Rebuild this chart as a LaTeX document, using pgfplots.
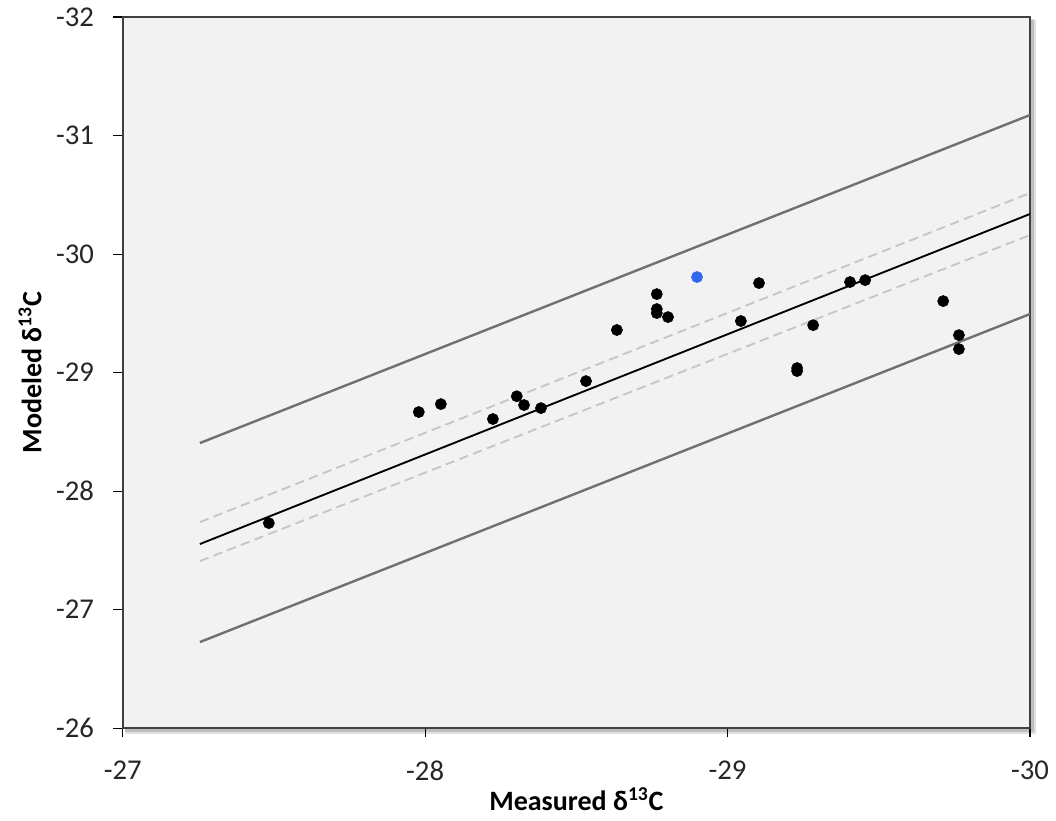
\documentclass[border=0pt]{standalone}
\usepackage{fontspec}
\setmainfont{Carlito}
\usepackage{pgfplots}
\pgfplotsset{compat=1.18}
\usetikzlibrary{calc,backgrounds}

\definecolor{bgc}{HTML}{F2F2F2}
\definecolor{frame}{HTML}{404040}
\definecolor{pband}{HTML}{707070}
\definecolor{cband}{HTML}{C6C6C6}
\definecolor{bluept}{HTML}{3366EE}

\begin{document}
\begin{tikzpicture}
\begin{axis}[
  scale only axis,
  width=680pt, height=533pt,
  xmin=-30, xmax=-27, ymin=-32, ymax=-26,
  x dir=reverse, y dir=reverse,
  xtick={-27,-28,-29,-30}, xticklabels={-27,-28,-29,-30},
  ytick={-32,-31,-30,-29,-28,-27,-26}, yticklabels={-32,-31,-30,-29,-28,-27,-26},
  tick align=outside, xtick pos=left, ytick pos=left,
  major tick length=7pt,
  tick style={black, line width=0.8pt},
  ticklabel style={font=\fontsize{21.5}{24}\selectfont, text=black!85},
  xticklabel style={yshift=-14pt},
  yticklabel style={xshift=-11pt},
  axis line style={frame, line width=1.4pt},
  axis background/.style={fill=bgc},
  xlabel={\textbf{Measured δ\textsuperscript{13}C}},
  ylabel={\textbf{Modeled δ\textsuperscript{13}C}},
  label style={font=\fontsize{21}{24}\selectfont},
  xlabel style={yshift=2pt},
  ylabel style={yshift=4pt},
  clip=true,
]
% prediction band
\addplot[pband, line width=1.8pt] coordinates {(-27.255,-28.405) (-30,-31.173)};
\addplot[pband, line width=1.8pt] coordinates {(-27.255,-26.726) (-30,-29.494)};
% confidence band
\addplot[cband, line width=1.4pt, dash pattern=on 7pt off 4pt] coordinates {(-27.255,-27.738) (-30,-30.515)};
\addplot[cband, line width=1.4pt, dash pattern=on 7pt off 4pt] coordinates {(-27.255,-27.409) (-30,-30.160)};
% fit
\addplot[black, line width=1.4pt] coordinates {(-27.255,-27.553) (-30,-30.338)};
% observations
\addplot[only marks, mark=*, mark size=4.2pt, black] coordinates {
(-27.483,-27.730) (-27.979,-28.667) (-28.052,-28.734) (-28.224,-28.608)
(-28.303,-28.800) (-28.327,-28.726) (-28.383,-28.700) (-28.532,-28.928)
(-28.634,-29.359) (-28.766,-29.662) (-28.766,-29.536) (-28.766,-29.502)
(-28.803,-29.468) (-29.044,-29.435) (-29.104,-29.755) (-29.230,-29.038)
(-29.230,-29.013) (-29.283,-29.400) (-29.405,-29.764) (-29.455,-29.780)
(-29.713,-29.603) (-29.765,-29.316) (-29.765,-29.198)
};
\addplot[only marks, mark=*, mark size=4.2pt, bluept] coordinates {(-28.899,-29.806)};
\end{axis}
% soft shadow of the plot area
\begin{pgfonlayer}{background}
\fill[black, opacity=0.12] ($(current axis.south west)+(2pt,-4.5pt)$) rectangle ($(current axis.north east)+(4.5pt,-2pt)$);
\fill[black, opacity=0.15] ($(current axis.south west)+(1.5pt,-3pt)$) rectangle ($(current axis.north east)+(3pt,-1.5pt)$);
\end{pgfonlayer}
\pgfresetboundingbox
\path ($(current axis.south west)+(-92pt,-69pt)$) rectangle ($(current axis.north east)+(19.5pt,12.75pt)$);
\end{tikzpicture}
\end{document}
